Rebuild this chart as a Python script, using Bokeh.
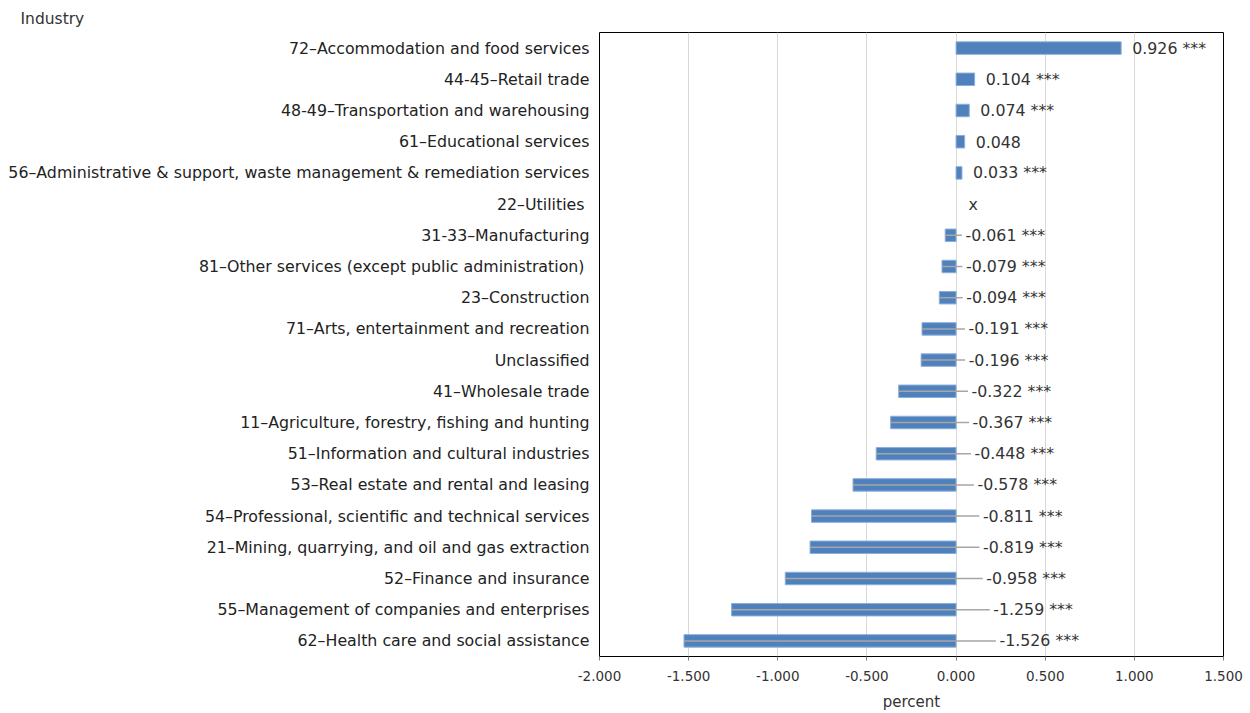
import numpy as np
from bokeh.plotting import figure
from bokeh.models import ColumnDataSource, FactorRange, NumeralTickFormatter, FixedTicker, Title
from bokeh.core.properties import value
from bokeh.embed import file_html
from bokeh.resources import INLINE

industries = [
    "72–Accommodation and food services",
    "44-45–Retail trade",
    "48-49–Transportation and warehousing",
    "61–Educational services",
    "56–Administrative & support, waste management & remediation services",
    "22–Utilities ",
    "31-33–Manufacturing",
    "81–Other services (except public administration) ",
    "23–Construction",
    "71–Arts, entertainment and recreation",
    "Unclassified",
    "41–Wholesale trade",
    "11–Agriculture, forestry, fishing and hunting",
    "51–Information and cultural industries",
    "53–Real estate and rental and leasing",
    "54–Professional, scientific and technical services",
    "21–Mining, quarrying, and oil and gas extraction",
    "52–Finance and insurance",
    "55–Management of companies and enterprises",
    "62–Health care and social assistance",
]
values = [0.926, 0.104, 0.074, 0.048, 0.033, None, -0.061, -0.079, -0.094, -0.191,
          -0.196, -0.322, -0.367, -0.448, -0.578, -0.811, -0.819, -0.958, -1.259, -1.526]
significance = ["***", "***", "***", "", "***", "", "***", "***", "***", "***",
                "***", "***", "***", "***", "***", "***", "***", "***", "***", "***"]
x_ticks = [-2.0, -1.5, -1.0, -0.5, 0.0, 0.5, 1.0, 1.5]

FONT = "DejaVu Sans"
TXT = "#333333"

# build sources
bar_cats, bar_vals = [], []
lab_cats, lab_x, lab_txt = [], [], []
ld_cats, ld_x0, ld_x1 = [], [], []
for c, v, s in zip(industries, values, significance):
    if v is None:
        lab_cats.append(c); lab_x.append(0.07); lab_txt.append("x")
        continue
    bar_cats.append(c); bar_vals.append(v)
    txt = f"{v:.3f}" + (f" {s}" if s else "")
    if v >= 0:
        lx = v + 0.062
    else:
        lx = 0.045 + 0.13 * abs(v)
        ld_cats.append(c); ld_x0.append(v); ld_x1.append(lx - 0.02)
    lab_cats.append(c); lab_x.append(lx); lab_txt.append(txt)

bars = ColumnDataSource(dict(cat=bar_cats, val=bar_vals))
labels = ColumnDataSource(dict(cat=lab_cats, x=lab_x, txt=lab_txt))
leaders = ColumnDataSource(dict(cat=ld_cats, x0=ld_x0, x1=ld_x1))

p = figure(width=1250, height=713, output_backend="svg", toolbar_location=None,
           y_range=FactorRange(factors=list(reversed(industries)), range_padding=0),
           x_range=(-2.0, 1.5),
           min_border_left=599, min_border_right=27, min_border_top=32, min_border_bottom=57)

p.hbar(y="cat", left=0, right="val", height=0.4, source=bars,
       fill_color="#4F81BD", line_color="#8DAEDA", line_width=1)
p.segment(x0="x0", y0="cat", x1="x1", y1="cat", source=leaders,
          line_color="#A6A6A6", line_width=1.5)
p.text(x="x", y="cat", text="txt", source=labels, text_font=value(FONT),
       text_font_size="15.8px", text_color=TXT, text_baseline="middle", text_align="left")

p.outline_line_color="black"
p.outline_line_width=1
p.ygrid.grid_line_color=None
p.xgrid.grid_line_color="#D9D9D9"
p.xgrid.ticker = FixedTicker(ticks=x_ticks)

xa = p.xaxis[0]
xa.ticker = FixedTicker(ticks=x_ticks)
xa.formatter = NumeralTickFormatter(format="0.000")
xa.axis_label = "percent"
xa.axis_label_text_font = FONT
xa.axis_label_text_font_style = "normal"
xa.axis_label_text_font_size = "15px"
xa.axis_label_text_color = TXT
xa.axis_label_standoff = 9
xa.major_label_text_font = FONT
xa.major_label_text_font_size = "13.5px"
xa.major_label_text_color = TXT
xa.major_label_standoff = 10
xa.major_tick_in = 0
xa.major_tick_out = 4
xa.major_tick_line_color = "#808080"
xa.minor_tick_line_color = None
xa.axis_line_color = "black"

ya = p.yaxis[0]
ya.major_label_text_font = FONT
ya.major_label_text_font_size = "15.8px"
ya.major_label_text_color = "#222222"
ya.major_label_standoff = 4
ya.major_tick_line_color = None
ya.minor_tick_line_color = None
ya.axis_line_color = None

p.title.text = "Industry"
p.title.text_font = FONT
p.title.text_font_size = "15.5px"
p.title.text_font_style = "normal"
p.title.text_color = TXT
p.title.align = "left"
p.title.offset = -579
p.title.standoff = 9

open("out.html", "w").write(file_html(p, INLINE))
